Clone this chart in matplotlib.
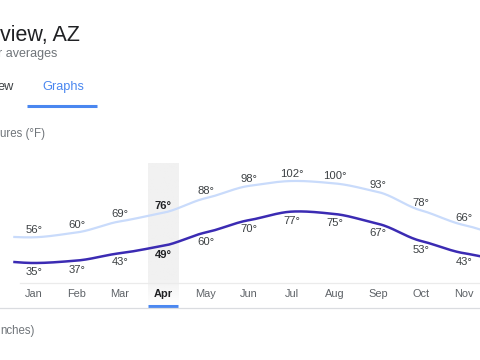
import numpy as np
import matplotlib
matplotlib.use("Agg")
import matplotlib.pyplot as plt
from matplotlib.transforms import blended_transform_factory

plt.rcParams['font.family'] = ['Liberation Sans', 'DejaVu Sans']

# ---- data ----
months = ['Jan', 'Feb', 'Mar', 'Apr', 'May', 'Jun', 'Jul', 'Aug', 'Sep', 'Oct', 'Nov', 'Dec']
high_f = [56, 60, 69, 76, 88, 98, 102, 100, 93, 78, 66, 57]
low_f = [35, 37, 43, 49, 60, 70, 77, 75, 67, 53, 43, 37]
selected_month = 'Apr'
title_text = 'view, AZ'
subtitle_text = 'r averages'
tab_left = 'ew'
tab_active = 'Graphs'
section_text = 'ures (°F)'
next_section_text = 'nches)'

# ---- styling ----
W, H = 480, 360
HIGH_COLOR = '#c9dbfb'
LOW_COLOR = '#3b2bb3'
BLUE = '#4a87f0'
GRAY_TEXT = '#70757a'
DARK_TEXT = '#3c4043'

fig = plt.figure(figsize=(4.8, 3.6), dpi=100)
fig.patch.set_facecolor('white')


def fx(px):
    return px / W


def fy(py):
    return 1 - py / H


# pixel mapping of chart
X0, DX = 34.0, 43.0        # Jan center px, spacing
Y_REF, T_REF, SC = 263.0, 35.0, 1.224  # px per degree

ax_top, ax_bot = 150, 307
ax = fig.add_axes([0, fy(ax_bot), 1, (ax_bot - ax_top) / H])
xmin, xmax = (0 - X0) / DX, (W - X0) / DX
ax.set_xlim(xmin, xmax)
ax.set_ylim(T_REF - (ax_bot - Y_REF) / SC, T_REF + (Y_REF - ax_top) / SC)
ax.axis('off')

n = len(months)
xs = np.arange(n)
sel = months.index(selected_month)

# highlight band with fading top
band_half = 0.35
band_top_T = T_REF + (Y_REF - 163) / SC
band_bot_T = ax.get_ylim()[0]
grad = np.ones((100, 1, 4))
grad[..., :3] = np.array([0xf1, 0xf1, 0xf1]) / 255
grad[:, 0, 3] = np.clip(np.linspace(0, 1, 100) / 0.2, 0, 1)
ax.imshow(grad, extent=[sel - band_half, sel + band_half, band_bot_T, band_top_T],
          origin='lower', aspect='auto', zorder=0, interpolation='bilinear')


def smooth(vals, tension=0.7):
    # cyclic Catmull-Rom style curve, evaluated from -0.5 onwards
    ext_x = np.arange(-1, n + 1)
    ext_v = np.array([vals[-1]] + list(vals) + [vals[0]], dtype=float)
    out_x, out_y = [], []
    for k in range(len(ext_x) - 1):
        p0 = ext_v[k]
        p1 = ext_v[k + 1]
        pm = ext_v[k - 1] if k - 1 >= 0 else ext_v[k]
        pp = ext_v[k + 2] if k + 2 < len(ext_v) else ext_v[k + 1]
        m0 = tension * (p1 - pm) / 2
        m1 = tension * (pp - p0) / 2
        t = np.linspace(0, 1, 30)
        h00 = 2 * t**3 - 3 * t**2 + 1
        h10 = t**3 - 2 * t**2 + t
        h01 = -2 * t**3 + 3 * t**2
        h11 = t**3 - t**2
        y = h00 * p0 + h10 * m0 + h01 * p1 + h11 * m1
        out_x.extend(ext_x[k] + t)
        out_y.extend(y)
    out_x = np.array(out_x)
    out_y = np.array(out_y)
    keep = out_x >= -0.5
    return out_x[keep], out_y[keep]


hx, hy = smooth(high_f)
lx, ly = smooth(low_f)
ax.plot(hx, hy, color=HIGH_COLOR, lw=1.6, solid_capstyle='butt', zorder=2)
ax.plot(lx, ly, color=LOW_COLOR, lw=1.8, solid_capstyle='butt', zorder=3)

visible = [i for i in range(n) if xs[i] < xmax]

for i in visible:
    bold = (i == sel)
    kw = dict(ha='center', fontsize=8.1, zorder=4,
              color='#202124' if bold else DARK_TEXT,
              fontweight='bold' if bold else 'normal')
    ax.annotate(f'{high_f[i]}°', (xs[i], high_f[i]), xytext=(0, 3.0),
                textcoords='offset points', va='baseline', **kw)
    ax.annotate(f'{low_f[i]}°', (xs[i], low_f[i]), xytext=(0, -8.8),
                textcoords='offset points', va='baseline', **kw)

# month labels
tr = blended_transform_factory(ax.transData, fig.transFigure)
for i in visible:
    bold = (i == sel)
    ax.text(xs[i], fy(297), months[i], transform=tr, ha='center', va='baseline',
            fontsize=7.9, color='#202124' if bold else '#5f6368',
            fontweight='bold' if bold else 'normal')

# selected underline
fig.add_artist(plt.Line2D([fx(X0 + DX * (sel - band_half)), fx(X0 + DX * (sel + band_half))],
                          [fy(306), fy(306)], color=BLUE, lw=2.2, solid_capstyle='butt'))

# axis line and bottom separator
fig.add_artist(plt.Line2D([fx(20), fx(480)], [fy(282.5), fy(282.5)], color='#ebebeb', lw=0.9))
fig.add_artist(plt.Line2D([0, 1], [fy(307.5), fy(307.5)], color='#dadce0', lw=0.9))

# header texts
fig.text(fx(-0.5), fy(41), title_text, fontsize=15.5, color='#202124', va='baseline', ha='left')
fig.text(fx(-1.5), fy(57), subtitle_text, fontsize=9.0, color=GRAY_TEXT, va='baseline', ha='left')
fig.text(fx(-3), fy(90), tab_left, fontsize=9.2, color=DARK_TEXT, va='baseline', ha='left')
fig.text(fx(63), fy(90), tab_active, fontsize=9.2, color=BLUE, va='baseline', ha='center')
fig.add_artist(plt.Line2D([fx(27), fx(97)], [fy(106), fy(106)], color=BLUE, lw=2.2,
                          solid_capstyle='butt'))
fig.text(fx(0), fy(137), section_text, fontsize=8.3, color=GRAY_TEXT, va='baseline', ha='left')
fig.text(fx(0), fy(334), next_section_text, fontsize=8.3, color=GRAY_TEXT, va='baseline', ha='left')

fig.savefig('out.png', dpi=100, facecolor='white')
